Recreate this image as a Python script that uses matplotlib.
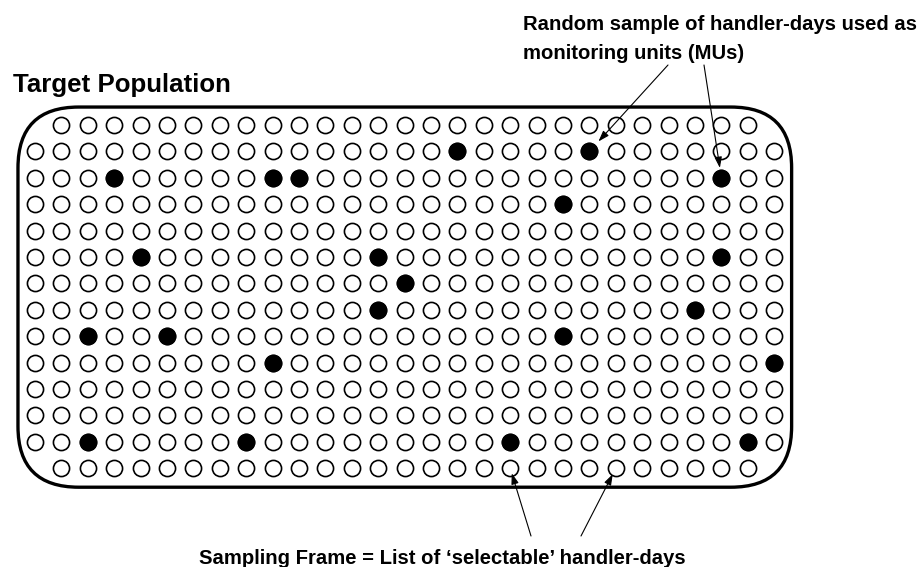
import numpy as np
import matplotlib
matplotlib.use("Agg")
import matplotlib.pyplot as plt
from matplotlib.patches import FancyBboxPatch

plt.rcParams['font.family'] = ['Liberation Sans', 'DejaVu Sans']

# grid of handler-days (rows x columns), corners of top and bottom row are empty
n_rows = 14
n_cols = 29
empty_cells = [(0, 0), (0, 28), (13, 0), (13, 28)]

# handler-days picked as monitoring units
sel_rows = [1, 1, 2, 2, 2, 2, 3, 5, 5, 5, 6, 7, 7, 8, 8, 8, 9, 9, 12, 12, 12, 12]
sel_cols = [16, 21, 3, 9, 10, 26, 20, 4, 13, 26, 14, 13, 25, 2, 5, 20, 9, 28, 2, 8, 18, 27]

# arrows: (row, col) of the pointed circle
top_arrow_targets = [(1, 21), (2, 26)]
bottom_arrow_targets = [(13, 18), (13, 22)]

title_text = "Target Population"
mu_text = ["Random sample of handler-days used as", "monitoring units (MUs)"]
frame_text = "Sampling Frame = List of \u2018selectable\u2019 handler-days"

W, H = 921, 567
step = 26.4
x0px, y0px = 35, 125

fig = plt.figure(figsize=(W / 100, H / 100), dpi=100)
ax = fig.add_axes([0, 0, 1, 1])
ax.set_xlim(-x0px / step, (W - x0px) / step)
ax.set_ylim((H - y0px) / step, -y0px / step)
ax.axis('off')

rr, cc = np.meshgrid(np.arange(n_rows), np.arange(n_cols), indexing='ij')
keep = np.ones(rr.shape, dtype=bool)
for r, c in empty_cells:
    keep[r, c] = False
ax.scatter(cc[keep], rr[keep], s=135, facecolor='white', edgecolor='black', linewidth=1.2, zorder=3)
ax.scatter(sel_cols, sel_rows, s=135, facecolor='black', edgecolor='black', linewidth=1.2, zorder=4)

box = FancyBboxPatch((-0.645, -0.68), 28.66 + 0.645, 13.72 + 0.68,
                     boxstyle="round,pad=0,rounding_size=2.3",
                     facecolor='none', edgecolor='black', linewidth=2.4, zorder=2)
ax.add_patch(box)

aprops = dict(arrowstyle='-|>,head_length=0.65,head_width=0.22', color='black',
              lw=0.8, mutation_scale=10, shrinkA=0)
top_tails = [(668, 65), (704, 65)]
top_shrink = [9.7, 7.2]
for (r, c), (tx, ty), sh in zip(top_arrow_targets, top_tails, top_shrink):
    ax.annotate('', xy=(c, r), xytext=((tx - x0px) / step, (ty - y0px) / step),
                arrowprops=dict(aprops, shrinkB=sh), zorder=5)
bottom_tails = [(531, 536), (581, 536)]
bottom_shrink = [3.8, 4.8]
for (r, c), (tx, ty), sh in zip(bottom_arrow_targets, bottom_tails, bottom_shrink):
    ax.annotate('', xy=(c, r), xytext=((tx - x0px) / step, (ty - y0px) / step),
                arrowprops=dict(aprops, shrinkB=sh), zorder=5)

fig.text(13 / W, 1 - 91.7 / H, title_text, fontsize=18.6, fontweight='bold', ha='left', va='baseline')
fig.text(523 / W, 1 - 29.5 / H, mu_text[0], fontsize=14.6, fontweight='bold', ha='left', va='baseline')
fig.text(523 / W, 1 - 59.3 / H, mu_text[1], fontsize=14.6, fontweight='bold', ha='left', va='baseline')
fig.text(442 / W, 1 - 564 / H, frame_text, fontsize=14.6, fontweight='bold', ha='center', va='baseline')

plt.savefig("out.png", dpi=100)
